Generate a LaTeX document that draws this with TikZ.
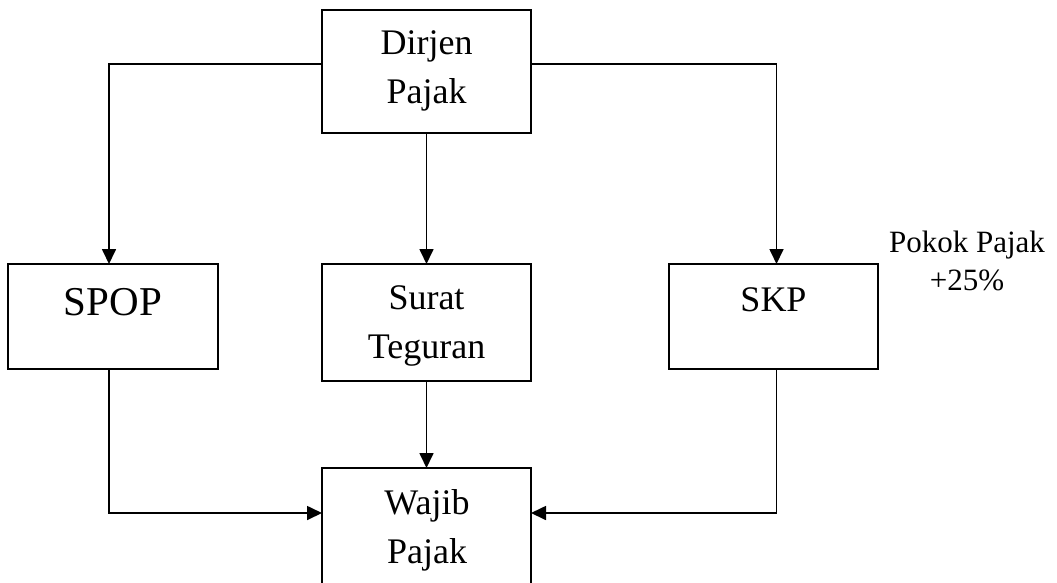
\documentclass[tikz,border=0pt]{standalone}
\usepackage{fontspec}
\setmainfont{Liberation Serif}
\usetikzlibrary{arrows.meta}
\begin{document}
\begin{tikzpicture}[x=1pt,y=-1pt,
  box/.style={draw, line width=1.6pt, inner sep=0pt, outer sep=0pt, minimum width=209pt},
  txt/.style={anchor=base, align=center, inner sep=0pt, font=\fontsize{36}{48.5}\selectfont},
  conn/.style={line width=1.7pt, -{Triangle[length=15pt,width=14pt]}}]
\useasboundingbox[fill=white] (0,0) rectangle (1057,582);
\clip (0,0) rectangle (1057,582);
% boxes
\node[box, minimum height=123pt] (dirjen) at (426.5,71.5) {};
\node[box, minimum width=210pt, minimum height=105pt] (spop) at (113,316.5) {};
\node[box, minimum height=117pt] (surat) at (426.5,322.5) {};
\node[box, minimum height=105pt] (skp) at (773.5,316.5) {};
\node[box, minimum height=132pt] (wajib) at (426.5,534) {};
% texts (base anchor = baseline of last line)
\node[txt] (tdirjen) at (426.5,103) {Dirjen\\Pajak};
\node[txt, font=\fontsize{41}{48}\selectfont] (tspop) at (113,315) {SPOP};
\node[txt] (tsurat) at (426.5,358) {Surat\\Teguran};
\node[txt] (tskp) at (773.5,311) {SKP};
\node[txt] (twajib) at (427,563) {Wajib\\Pajak};
\node[txt, font=\fontsize{31}{38}\selectfont] (pokok) at (967,290) {Pokok Pajak\\+25\%};
% connectors
\draw[conn] ([yshift=7.5pt]dirjen.west) -| ([xshift=-4pt]spop.north);
\draw[conn] ([yshift=7.5pt]dirjen.east) -| ([xshift=3pt]skp.north);
\draw[conn] (dirjen.south) -- (surat.north);
\draw[conn] (surat.south) -- (wajib.north);
\draw[conn] ([xshift=-4pt]spop.south) |- ([yshift=21pt]wajib.west);
\draw[conn] ([xshift=3pt]skp.south) |- ([yshift=21pt]wajib.east);
\end{tikzpicture}
\end{document}
